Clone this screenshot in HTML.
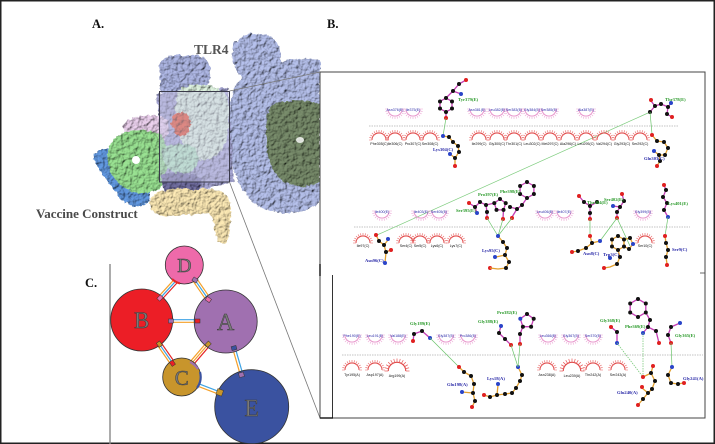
<!DOCTYPE html>
<html><head><meta charset="utf-8">
<style>
html,body{margin:0;padding:0;background:#fff;}
svg{display:block;}
.lbl{font-family:"Liberation Serif",serif;font-weight:bold;}
.t{font-family:"Liberation Sans",sans-serif;font-size:3.6px;}
.g{fill:#2a9a2a;font-family:"Liberation Serif",serif;font-size:4.6px;font-weight:bold;}
.b{fill:#2a2aa8;font-family:"Liberation Serif",serif;font-size:4.6px;font-weight:bold;}
.m{stroke:#c53fb5;stroke-width:1.3;fill:none;}
.o{stroke:#e2a030;stroke-width:1.3;fill:none;}
.h{stroke:#6cc46c;stroke-width:0.7;fill:none;}
.hd{stroke:#6cc46c;stroke-width:0.7;fill:none;stroke-dasharray:1.5 1;}
</style></head>
<body>
<svg width="715" height="444" viewBox="0 0 715 444" xmlns="http://www.w3.org/2000/svg">
<defs>
 <filter id="bump" x="-5%" y="-5%" width="110%" height="110%">
  <feTurbulence type="fractalNoise" baseFrequency="0.22" numOctaves="2" seed="4" result="n"/>
  <feDisplacementMap in="SourceGraphic" in2="n" scale="5" xChannelSelector="R" yChannelSelector="G" result="d"/>
  <feDiffuseLighting in="n" surfaceScale="2.5" lighting-color="#ffffff" result="l"><feDistantLight azimuth="225" elevation="55"/></feDiffuseLighting>
  <feComposite in="l" in2="d" operator="arithmetic" k1="1.2" k2="0" k3="0" k4="0" result="lit"/>
  <feComposite in="lit" in2="d" operator="in"/>
 </filter>
 <g id="up">
  <path d="M-7,0 A7,7 0 0 0 7,0" stroke="#e58ac6" stroke-width="0.8" fill="none"/>
  <path d="M7,0L10,0M6.76,1.81L9.66,2.59M6.06,3.5L8.66,5M4.95,4.95L7.07,7.07M3.5,6.06L5,8.66M1.81,6.76L2.59,9.66M0,7L0,10M-1.81,6.76L-2.59,9.66M-3.5,6.06L-5,8.66M-4.95,4.95L-7.07,7.07M-6.06,3.5L-8.66,5M-6.76,1.81L-9.66,2.59M-7,0L-10,0" stroke="#eba6d4" stroke-width="0.6"/>
 </g>
 <g id="dn">
  <path d="M-7,0 A7,7 0 0 1 7,0" stroke="#e04848" stroke-width="0.9" fill="none"/>
  <path d="M7,0L10,0M6.76,-1.81L9.66,-2.59M6.06,-3.5L8.66,-5M4.95,-4.95L7.07,-7.07M3.5,-6.06L5,-8.66M1.81,-6.76L2.59,-9.66M0,-7L0,-10M-1.81,-6.76L-2.59,-9.66M-3.5,-6.06L-5,-8.66M-4.95,-4.95L-7.07,-7.07M-6.06,-3.5L-8.66,-5M-6.76,-1.81L-9.66,-2.59M-7,0L-10,0" stroke="#e86060" stroke-width="0.6"/>
 </g>
</defs>

<rect x="0.75" y="0.75" width="713.5" height="442.5" fill="#fff" stroke="#222" stroke-width="1.5"/>

<!-- ================= PANEL A ================= -->
<g filter="url(#bump)">
 <!-- TLR4 top-right lobe -->
 <path d="M232,55 C230,38 250,30 262,34 C276,36 284,48 280,62 C282,75 270,85 255,82 C242,80 233,70 232,55 Z" fill="#a9b3dc"/>
 <!-- TLR4 big ring -->
 <path d="M236,85 C250,65 290,55 320,60 L320,202 C305,216 275,216 258,206 C238,193 228,160 229,130 C229,110 230,95 236,85 Z" fill="#a8b2da"/>
 <path d="M270,108 C282,98 305,100 320,104 L320,182 C305,190 285,187 275,173 C265,158 263,125 270,108 Z" fill="#6f8263"/>
 <!-- top center lobe -->
 <path d="M160,70 C158,58 172,52 185,56 C197,52 210,58 210,70 C212,82 205,92 195,96 L165,96 C158,88 160,80 160,70 Z" fill="#a3abd6"/>
 <!-- lavender mass -->
 <path d="M156,94 L228,88 L234,182 L200,190 L168,186 Z" fill="#9d9dc8"/>
 <!-- pale green -->
 <path d="M178,92 C185,82 212,82 224,92 C232,106 230,136 222,150 C212,163 196,162 188,152 C178,140 172,110 178,92 Z" fill="#cfe2d0"/>
 <!-- pink -->
 <path d="M122,126 C128,116 150,113 166,118 C172,125 168,139 160,143 C145,146 128,141 122,126 Z" fill="#dcc3de"/>
 <!-- blue -->
 <path d="M93,155 C100,146 118,148 130,152 C145,160 153,180 149,201 C140,211 128,207 118,196 C108,181 96,168 93,155 Z" fill="#5b8fd3"/>
 <!-- green -->
 <path d="M111,143 C120,127 151,126 163,138 C171,151 169,179 158,189 C145,197 125,193 115,179 C107,168 105,152 111,143 Z" fill="#8ed287"/>
 <!-- mint -->
 <path d="M162,150 C170,142 190,142 197,150 C201,161 195,173 184,174 C171,176 162,165 162,150 Z" fill="#a9d9b5"/>
 <!-- dark purple -->
 <path d="M160,176 C170,170 190,172 200,178 C205,186 196,196 185,197 C172,198 160,190 160,176 Z" fill="#6b6898"/>
 <!-- beige -->
 <path d="M150,200 C155,189 176,187 196,190 C211,187 223,190 229,198 C233,211 231,230 227,243 L218,243 C215,232 214,221 210,213 C195,215 175,216 160,215 C152,213 148,207 150,200 Z" fill="#ebd9a8"/>
 <!-- red -->
 <path d="M172,118 C175,111 185,111 188,116 C193,122 190,131 185,135 C180,138 173,133 172,126 Z" fill="#d94a2a"/>
</g>
<circle cx="136" cy="160" r="4" fill="#fff"/>
<ellipse cx="300" cy="140" rx="4" ry="3" fill="#fff" opacity="0.8"/>
<rect x="159.5" y="91.5" width="70" height="90.5" fill="rgba(206,206,236,0.45)" stroke="#3a3a4a" stroke-width="1"/>
<line x1="229.5" y1="91" x2="320" y2="72" stroke="#777" stroke-width="0.8"/>
<line x1="229.5" y1="182" x2="320" y2="418" stroke="#777" stroke-width="0.8"/>

<text class="lbl" x="92" y="28" font-size="12.5" fill="#111">A.</text>
<text class="lbl" x="327" y="28" font-size="12.5" fill="#111">B.</text>
<text class="lbl" x="85" y="287" font-size="12.5" fill="#111">C.</text>
<text class="lbl" x="194" y="54" font-size="13.5" fill="#555">TLR4</text>
<text class="lbl" x="36" y="218" font-size="13" fill="#4a4a4a">Vaccine Construct</text>

<!-- ================= PANEL C ================= -->
<line x1="110" y1="264" x2="110" y2="444" stroke="#888" stroke-width="1.4"/>
<!-- connectors -->
<g transform="translate(176.7,280) rotate(132.4)">
 <line x1="-4" y1="-2.2" x2="29" y2="-2.2" stroke="#e42525" stroke-width="1.2"/>
 <line x1="-4" y1="0" x2="29" y2="0" stroke="#3ea3e4" stroke-width="1.2"/>
 <line x1="-4" y1="2.2" x2="29" y2="2.2" stroke="#f5a02a" stroke-width="1.2"/>
</g>
<g transform="translate(195,280) rotate(55.4)">
 <line x1="-4" y1="-2.2" x2="28" y2="-2.2" stroke="#f5a02a" stroke-width="1.2"/>
 <line x1="-4" y1="0" x2="28" y2="0" stroke="#3ea3e4" stroke-width="1.2"/>
 <line x1="-4" y1="2.2" x2="28" y2="2.2" stroke="#f5a02a" stroke-width="1.2"/>
</g>
<g transform="translate(171.7,321)">
 <line x1="-4" y1="-1.3" x2="30" y2="-1.3" stroke="#3ea3e4" stroke-width="1.2"/>
 <line x1="-4" y1="1.3" x2="30" y2="1.3" stroke="#f5a02a" stroke-width="1.2"/>
</g>
<g transform="translate(159.3,344) rotate(55.2)">
 <line x1="-4" y1="-2.2" x2="28" y2="-2.2" stroke="#e42525" stroke-width="1.2"/>
 <line x1="-4" y1="0" x2="28" y2="0" stroke="#3ea3e4" stroke-width="1.2"/>
 <line x1="-4" y1="2.2" x2="28" y2="2.2" stroke="#f5a02a" stroke-width="1.2"/>
</g>
<g transform="translate(208.3,344) rotate(130.7)">
 <line x1="-4" y1="-2.2" x2="30" y2="-2.2" stroke="#e42525" stroke-width="1.2"/>
 <line x1="-4" y1="0" x2="30" y2="0" stroke="#f5a02a" stroke-width="1.2"/>
 <line x1="-4" y1="2.2" x2="30" y2="2.2" stroke="#f5a02a" stroke-width="1.2"/>
</g>
<g transform="translate(234,348.3) rotate(73.9)">
 <line x1="-4" y1="-1.3" x2="32" y2="-1.3" stroke="#3ea3e4" stroke-width="1.2"/>
 <line x1="-4" y1="1.3" x2="32" y2="1.3" stroke="#f5a02a" stroke-width="1.2"/>
</g>
<g transform="translate(198.3,385) rotate(20.9)">
 <line x1="-4" y1="-1.3" x2="28" y2="-1.3" stroke="#3ea3e4" stroke-width="1.2"/>
 <line x1="-4" y1="1.3" x2="28" y2="1.3" stroke="#f5a02a" stroke-width="1.2"/>
</g>
<!-- circles -->
<circle cx="184.3" cy="265" r="19" fill="#ee6aaa" stroke="#333" stroke-width="0.8"/>
<circle cx="141.7" cy="320" r="31" fill="#ec1e26" stroke="#333" stroke-width="0.8"/>
<circle cx="225.7" cy="321.5" r="31.5" fill="#a070b0" stroke="#333" stroke-width="0.8"/>
<circle cx="181.7" cy="377" r="19" fill="#c8952c" stroke="#333" stroke-width="0.8"/>
<circle cx="251.7" cy="406.7" r="37" fill="#3a52a0" stroke="#333" stroke-width="0.8"/>
<!-- arc segments -->
<path d="M172,279 A19,19 0 0 0 180,283.5" stroke="#e42525" stroke-width="2.2" fill="none"/>
<path d="M190,362 A19,19 0 0 1 198,369" stroke="#a070b0" stroke-width="2.2" fill="none"/>
<path d="M200,372 A19,19 0 0 1 197,388" stroke="#3a52a0" stroke-width="2.2" fill="none"/>
<!-- end squares -->
<rect x="157.5" y="296" width="5" height="4" fill="#ee6aaa" stroke="#333" stroke-width="0.5" transform="rotate(-45 160 298)"/>
<rect x="192.5" y="278" width="5" height="4" fill="#a070b0" stroke="#333" stroke-width="0.5" transform="rotate(35 195 280)"/>
<rect x="206" y="297.5" width="5" height="4" fill="#ee6aaa" stroke="#333" stroke-width="0.5" transform="rotate(35 208.3 299.3)"/>
<rect x="168.5" y="319" width="5" height="4" fill="#a070b0" stroke="#333" stroke-width="0.5"/>
<rect x="195" y="319" width="5" height="4" fill="#ec1e26" stroke="#333" stroke-width="0.5"/>
<rect x="157" y="342" width="5" height="4" fill="#c8952c" stroke="#333" stroke-width="0.5" transform="rotate(55 159.3 344)"/>
<rect x="170" y="361.5" width="5" height="4" fill="#ec1e26" stroke="#333" stroke-width="0.5" transform="rotate(55 172.7 363.3)"/>
<rect x="205.5" y="342" width="5" height="4" fill="#c8952c" stroke="#333" stroke-width="0.5" transform="rotate(-45 208.3 344)"/>
<rect x="231.5" y="346" width="5" height="4" fill="#3a52a0" stroke="#333" stroke-width="0.5" transform="rotate(-15 234 348)"/>
<rect x="239" y="372.5" width="5" height="4.5" fill="#a070b0" stroke="#333" stroke-width="0.5" transform="rotate(-15 241.7 375)"/>
<rect x="216.5" y="389.5" width="6" height="6" fill="#c8952c" stroke="#333" stroke-width="0.5" transform="rotate(20 220 393)"/>
<!-- letters -->
<g class="lbl" font-weight="normal" fill="#7a7a7a" stroke="#3a3a3a" stroke-width="0.5" text-anchor="middle" style="font-weight:normal">
 <text x="184.3" y="272" font-size="20">D</text>
 <text x="141.7" y="328" font-size="23">B</text>
 <text x="225.7" y="330" font-size="24">A</text>
 <text x="181.7" y="385" font-size="21">C</text>
 <text x="251.7" y="416" font-size="24">E</text>
</g>

<!-- ================= PANEL B ================= -->
<rect x="320" y="72" width="385" height="346" fill="#fff" stroke="#444" stroke-width="1"/>
<line x1="320" y1="264" x2="320" y2="276" stroke="#111" stroke-width="1.4"/>
<line x1="332.5" y1="275" x2="332.5" y2="418" stroke="#333" stroke-width="1"/>
<line x1="320" y1="418" x2="333" y2="418" stroke="#111" stroke-width="1.4"/>
<line x1="700" y1="273" x2="705" y2="273" stroke="#444" stroke-width="0.8"/>

<!-- dashed separator lines -->
<line x1="369" y1="126" x2="678" y2="126" stroke="#888" stroke-width="0.6" stroke-dasharray="1.5 1"/>
<line x1="354" y1="227" x2="690" y2="227" stroke="#888" stroke-width="0.6" stroke-dasharray="1.5 1"/>
<line x1="342" y1="355" x2="703" y2="355" stroke="#888" stroke-width="0.6" stroke-dasharray="1.5 1"/>

<!-- long diagonal H-bond -->
<line x1="648" y1="113" x2="377" y2="235" stroke="#7dcc7d" stroke-width="0.7"/>

<!-- Row 1 arcs -->
<g>
 <use href="#up" x="395" y="109"/><use href="#up" x="413" y="109"/><use href="#up" x="477" y="109"/><use href="#up" x="497" y="109"/>
 <use href="#up" x="514" y="109"/><use href="#up" x="532" y="109"/><use href="#up" x="549" y="109"/><use href="#up" x="586" y="109"/>
 <use href="#dn" x="379" y="140"/><use href="#dn" x="395" y="140"/><use href="#dn" x="413" y="140"/><use href="#dn" x="430" y="140"/>
 <use href="#dn" x="479" y="140"/><use href="#dn" x="497" y="140"/><use href="#dn" x="514" y="140"/><use href="#dn" x="532" y="140"/>
 <use href="#dn" x="550" y="140"/><use href="#dn" x="568" y="140"/><use href="#dn" x="586" y="140"/><use href="#dn" x="604" y="140"/>
 <use href="#dn" x="622" y="140"/><use href="#dn" x="640" y="140"/>
</g>
<g class="t" fill="#2a2aa8" text-anchor="middle">
 <text x="395" y="111">Asn376(E)</text><text x="413" y="111">Ile375(E)</text><text x="477" y="111">Asn381(E)</text><text x="497" y="111">Leu382(E)</text>
 <text x="514" y="111">Ser383(E)</text><text x="532" y="111">Gly384(E)</text><text x="549" y="111">Ser385(E)</text><text x="586" y="111">Ala387(E)</text>
</g>
<g class="t" fill="#111" text-anchor="middle">
 <text x="379" y="145">Phe305(C)</text><text x="395" y="145">Ile306(C)</text><text x="413" y="145">Pro307(C)</text><text x="430" y="145">Ser308(C)</text>
 <text x="479" y="145">Ile299(C)</text><text x="497" y="145">Gly300(C)</text><text x="514" y="145">Thr301(C)</text><text x="532" y="145">Leu302(C)</text>
 <text x="550" y="145">Met297(C)</text><text x="568" y="145">Ala296(C)</text><text x="586" y="145">Leu295(C)</text><text x="604" y="145">Val294(C)</text>
 <text x="622" y="145">Gly293(C)</text><text x="640" y="145">Ser292(C)</text>
</g>

<!-- Tyr379(E) -->
<polygon class="m" points="452,101.5 452,108.5 446,112 440,108.5 440,101.5 446,98"/>
<polyline class="m" points="446,98 453,91 459,84 466,80"/>
<polyline class="m" points="453,91 461,94"/>
<line class="m" x1="446" y1="112" x2="446" y2="118"/>
<g fill="#111"><circle cx="452" cy="101.5" r="2"/><circle cx="452" cy="108.5" r="2"/><circle cx="446" cy="112" r="2"/><circle cx="440" cy="108.5" r="2"/><circle cx="440" cy="101.5" r="2"/><circle cx="446" cy="98" r="2"/><circle cx="453" cy="91" r="2"/><circle cx="459" cy="84" r="2"/></g>
<circle cx="466" cy="80" r="2" fill="#e02020"/><circle cx="461" cy="94" r="2" fill="#2a44c8"/><circle cx="446" cy="118" r="2" fill="#e02020"/>
<text class="g" x="458" y="101">Tyr379(E)</text>
<line class="h" x1="446" y1="118" x2="443" y2="136"/>
<!-- Lys304(C) -->
<polyline class="o" points="443,136 449,137 453,142 458,146 459,152 455,158 455,165"/>
<line class="o" x1="455" y1="158" x2="450" y2="154"/>
<g fill="#111"><circle cx="449" cy="137" r="2"/><circle cx="453" cy="142" r="2"/><circle cx="458" cy="146" r="2"/><circle cx="459" cy="152" r="2"/><circle cx="455" cy="158" r="2"/></g>
<circle cx="443" cy="136" r="2" fill="#2a44c8"/><circle cx="450" cy="154" r="2" fill="#2a44c8"/><circle cx="455" cy="166" r="2" fill="#e02020"/>
<text class="b" x="433" y="151">Lys304(C)</text>

<!-- Thr378(E) -->
<polyline class="m" points="651,101 655,106 661,104 668,107 671,103"/>
<polyline class="m" points="655,106 650,112"/>
<polyline class="m" points="668,107 667,114 672,117"/>
<g fill="#111"><circle cx="655" cy="106" r="2"/><circle cx="661" cy="104" r="2"/><circle cx="668" cy="107" r="2"/><circle cx="650" cy="112" r="2"/><circle cx="667" cy="114" r="2"/></g>
<circle cx="651" cy="100" r="2" fill="#e02020"/><circle cx="671" cy="103" r="2" fill="#2a44c8"/><circle cx="672" cy="117" r="2" fill="#e02020"/>
<text class="g" x="665" y="101">Thr378(E)</text>
<line class="h" x1="650" y1="112" x2="652" y2="134"/>
<!-- Gln303(C) -->
<polyline class="o" points="652,135 657,141 664,142 668,148 665,155 659,155 654,151"/>
<polyline class="o" points="659,155 660,161 657,166"/>
<g fill="#111"><circle cx="657" cy="141" r="2"/><circle cx="664" cy="142" r="2"/><circle cx="668" cy="148" r="2"/><circle cx="665" cy="155" r="2"/><circle cx="659" cy="155" r="2"/><circle cx="660" cy="161" r="2"/></g>
<circle cx="652" cy="135" r="2" fill="#e02020"/><circle cx="654" cy="151" r="2" fill="#2a44c8"/><circle cx="657" cy="166" r="2" fill="#e02020"/>
<text class="b" x="644" y="160">Gln303(C)</text>

<!-- Row 2 arcs -->
<g>
 <use href="#up" x="382" y="211"/><use href="#up" x="421" y="211"/><use href="#up" x="439" y="211"/><use href="#up" x="545" y="211"/><use href="#up" x="564" y="211"/><use href="#up" x="643" y="211"/>
 <use href="#dn" x="363" y="243"/><use href="#dn" x="406" y="243"/><use href="#dn" x="420" y="243"/><use href="#dn" x="437" y="243"/><use href="#dn" x="456" y="243"/><use href="#dn" x="645" y="243"/>
</g>
<g class="t" fill="#2a2aa8" text-anchor="middle">
 <text x="382" y="213">Ile400(E)</text><text x="421" y="213">Ile403(E)</text><text x="439" y="213">Ser405(E)</text><text x="545" y="213">Leu406(E)</text><text x="564" y="213">Ile407(E)</text><text x="643" y="213">Gly399(E)</text>
</g>
<g class="t" fill="#111" text-anchor="middle">
 <text x="363" y="247">Ile97(C)</text><text x="406" y="247">Ser4(C)</text><text x="420" y="247">Ser5(C)</text><text x="437" y="247">Lys6(C)</text><text x="456" y="247">Lys7(C)</text><text x="645" y="247">Ser10(C)</text>
</g>
<!-- Asn96(C) -->
<polyline class="o" points="376,235 379,241 384,245 386,252 385,263"/>
<polyline class="o" points="384,245 388,240"/><polyline class="o" points="386,252 391,250"/>
<g fill="#111"><circle cx="379" cy="241" r="2"/><circle cx="384" cy="245" r="2"/><circle cx="386" cy="252" r="2"/></g>
<circle cx="376" cy="235" r="2" fill="#e02020"/><circle cx="388" cy="239" r="2" fill="#2a44c8"/><circle cx="391" cy="250" r="2" fill="#e02020"/><circle cx="385" cy="263" r="2" fill="#2a44c8"/>
<text class="b" x="365" y="262">Asn96(C)</text>
<!-- Ser395 / Pro397 / Phe398 -->
<polyline class="m" points="469,203 475,207 480,202 486,205 487,212 487,218"/>
<polyline class="m" points="475,207 477,213"/>
<polygon class="m" points="500,199 505.7,203.1 503.5,209.9 496.5,209.9 494.3,203.1"/>
<polyline class="m" points="494.3,203.1 486,205"/>
<polyline class="m" points="503.5,209.9 503,218"/>
<polygon class="m" points="527,182 533.9,186 533.9,194 527,198 520.1,194 520.1,186"/>
<polyline class="m" points="527,198 522,205 517,209 512,217"/>
<polyline class="m" points="517,209 510,207"/>
<g fill="#111">
 <circle cx="475" cy="207" r="2"/><circle cx="480" cy="202" r="2"/><circle cx="486" cy="205" r="2"/><circle cx="487" cy="212" r="2"/>
 <circle cx="500" cy="199" r="2"/><circle cx="505.7" cy="203.1" r="2"/><circle cx="503.5" cy="209.9" r="2"/><circle cx="496.5" cy="209.9" r="2"/><circle cx="494.3" cy="203.1" r="2"/>
 <circle cx="527" cy="182" r="2"/><circle cx="533.9" cy="186" r="2"/><circle cx="533.9" cy="194" r="2"/><circle cx="527" cy="198" r="2"/><circle cx="520.1" cy="194" r="2"/><circle cx="520.1" cy="186" r="2"/>
 <circle cx="522" cy="205" r="2"/><circle cx="517" cy="209" r="2"/><circle cx="510" cy="207" r="2"/>
</g>
<circle cx="469" cy="203" r="2" fill="#e02020"/><circle cx="477" cy="213" r="2" fill="#2a44c8"/><circle cx="487" cy="218" r="2" fill="#e02020"/><circle cx="503" cy="219" r="2" fill="#e02020"/><circle cx="512" cy="218" r="2" fill="#e02020"/>
<text class="g" x="456" y="212">Ser395(E)</text>
<text class="g" x="478" y="196">Pro397(E)</text>
<text class="g" x="500" y="193">Phe398(E)</text>
<line class="h" x1="487" y1="218" x2="498" y2="236"/><line class="h" x1="503" y1="219" x2="498" y2="236"/><line class="h" x1="512" y1="218" x2="498" y2="236"/>
<!-- Lys95(C) -->
<polyline class="o" points="498,236 503,242 507,248 505,255 509,262 506,268 498,269"/>
<polyline class="o" points="505,255 496,257"/>
<g fill="#111"><circle cx="503" cy="242" r="2"/><circle cx="507" cy="248" r="2"/><circle cx="505" cy="255" r="2"/><circle cx="509" cy="262" r="2"/><circle cx="506" cy="268" r="2"/></g>
<circle cx="498" cy="236" r="2" fill="#2a44c8"/><circle cx="495" cy="257" r="2" fill="#2a44c8"/><circle cx="490" cy="268" r="2" fill="#e02020"/>
<line class="o" x1="490" y1="268" x2="498" y2="269"/>
<text class="b" x="482" y="252">Lys95(C)</text>

<!-- Thr404 / Ser402 -->
<polyline class="m" points="579,196 584,202 590,206 597,202"/>
<polyline class="m" points="590,206 590,213 590,219"/>
<polyline class="m" points="622,194 624,201 620,207 617,212 617,218"/>
<polyline class="m" points="620,207 613,206"/>
<g fill="#111"><circle cx="584" cy="202" r="2"/><circle cx="590" cy="206" r="2"/><circle cx="597" cy="202" r="2"/><circle cx="590" cy="213" r="2"/><circle cx="624" cy="201" r="2"/><circle cx="620" cy="207" r="2"/><circle cx="617" cy="212" r="2"/></g>
<circle cx="579" cy="196" r="2" fill="#e02020"/><circle cx="590" cy="219" r="2" fill="#e02020"/><circle cx="622" cy="194" r="2" fill="#e02020"/><circle cx="617" cy="218" r="2" fill="#e02020"/><circle cx="613" cy="206" r="2" fill="#2a44c8"/>
<text class="g" x="587" y="204">Thr404(E)</text>
<text class="g" x="604" y="201">Ser402(E)</text>
<line class="h" x1="590" y1="219" x2="590" y2="236"/><line class="h" x1="617" y1="218" x2="600" y2="241"/><line class="h" x1="617" y1="218" x2="630" y2="246"/>
<!-- Asn8(C) -->
<polyline class="o" points="590,236 592,243 600,241"/>
<polyline class="o" points="592,243 586,248 578,251 572,252"/>
<g fill="#111"><circle cx="592" cy="243" r="2"/><circle cx="586" cy="248" r="2"/><circle cx="578" cy="251" r="2"/></g>
<circle cx="590" cy="236" r="2" fill="#e02020"/><circle cx="600" cy="241" r="2" fill="#2a44c8"/><circle cx="572" cy="252" r="2" fill="#e02020"/>
<text class="b" x="583" y="255">Asn8(C)</text>
<!-- Trp3(C) -->
<polygon class="o" points="618,236 624,239.5 624,246.5 618,250 612,246.5 612,239.5"/>
<polygon class="o" points="624,239.5 630,238 633,244 629,249 624,246.5"/>
<polyline class="o" points="618,250 620,257 617,264 610,267 604,268"/>
<g fill="#111"><circle cx="618" cy="236" r="2"/><circle cx="624" cy="239.5" r="2"/><circle cx="624" cy="246.5" r="2"/><circle cx="618" cy="250" r="2"/><circle cx="612" cy="246.5" r="2"/><circle cx="612" cy="239.5" r="2"/><circle cx="630" cy="238" r="2"/><circle cx="629" cy="249" r="2"/><circle cx="620" cy="257" r="2"/><circle cx="617" cy="264" r="2"/></g>
<circle cx="633" cy="244" r="2" fill="#2a44c8"/><circle cx="610" cy="258" r="2" fill="#2a44c8"/><circle cx="604" cy="268" r="2" fill="#e02020"/>
<text class="b" x="603" y="256">Trp3(C)</text>
<!-- Lys401(E) -->
<polyline class="m" points="664,185 666,190 663,197 667,203 664,210 668,217"/>
<g fill="#111"><circle cx="666" cy="190" r="2"/><circle cx="663" cy="197" r="2"/><circle cx="667" cy="203" r="2"/><circle cx="664" cy="210" r="2"/></g>
<circle cx="664" cy="185" r="2" fill="#e02020"/><circle cx="668" cy="217" r="2" fill="#2a44c8"/>
<text class="g" x="668" y="205">Lys401(E)</text>
<line class="h" x1="668" y1="217" x2="665" y2="236"/>
<!-- Ser9(C) -->
<polyline class="o" points="665,236 666,243 668,250 666,257 667,264"/>
<g fill="#111"><circle cx="666" cy="243" r="2"/><circle cx="668" cy="250" r="2"/><circle cx="666" cy="257" r="2"/></g>
<circle cx="665" cy="236" r="2" fill="#e02020"/><circle cx="667" cy="265" r="2" fill="#e02020"/>
<text class="b" x="672" y="251">Ser9(C)</text>

<!-- Row 3 arcs -->
<g>
 <use href="#up" x="352" y="335"/><use href="#up" x="375" y="335"/><use href="#up" x="398" y="335"/><use href="#up" x="446" y="335"/><use href="#up" x="468" y="335"/><use href="#up" x="548" y="335"/><use href="#up" x="571" y="335"/><use href="#up" x="593" y="335"/>
 <use href="#dn" x="352" y="370"/><use href="#dn" x="375" y="370"/><use href="#dn" x="397" y="371" transform="translate(397 371) scale(1.25) translate(-397 -371)"/>
 <use href="#dn" x="547" y="370"/><use href="#dn" x="572" y="371" transform="translate(572 371) scale(1.25) translate(-572 -371)"/><use href="#dn" x="593" y="370"/><use href="#dn" x="618" y="370"/>
</g>
<g class="t" fill="#2a2aa8" text-anchor="middle">
 <text x="352" y="337">Phe190(E)</text><text x="375" y="337">Leu191(E)</text><text x="398" y="337">Val188(E)</text><text x="446" y="337">Gly387(E)</text><text x="468" y="337">Pro386(E)</text>
 <text x="548" y="337">Leu366(E)</text><text x="571" y="337">Gly367(E)</text><text x="593" y="337">Ser370(E)</text>
</g>
<g class="t" fill="#111" text-anchor="middle">
 <text x="352" y="376">Tyr195(A)</text><text x="375" y="376">Asp197(A)</text><text x="397" y="377">Arg199(A)</text>
 <text x="547" y="376">Asn238(A)</text><text x="572" y="377">Leu239(A)</text><text x="593" y="376">Thr242(A)</text><text x="618" y="376">Ser243(A)</text>
</g>
<!-- Gly189(E) -->
<polyline class="m" points="413,341 414,334 422,331 430,338"/>
<g fill="#111"><circle cx="414" cy="334" r="2"/><circle cx="422" cy="331" r="2"/></g>
<circle cx="413" cy="341" r="2" fill="#e02020"/><circle cx="430" cy="338" r="2" fill="#2a44c8"/>
<text class="g" x="410" y="325">Gly189(E)</text>
<line class="h" x1="430" y1="338" x2="459" y2="367"/>
<!-- Glu198(A) -->
<polyline class="o" points="459,367 464,372 471,376 474,384 473,393 475,401 472,407"/>
<polyline class="o" points="473,393 462,392"/>
<g fill="#111"><circle cx="464" cy="372" r="2"/><circle cx="471" cy="376" r="2"/><circle cx="474" cy="384" r="2"/><circle cx="473" cy="393" r="2"/><circle cx="475" cy="401" r="2"/></g>
<circle cx="459" cy="367" r="2" fill="#e02020"/><circle cx="462" cy="392" r="2" fill="#2a44c8"/><circle cx="472" cy="407" r="2" fill="#e02020"/>
<text class="b" x="447" y="386">Glu198(A)</text>
<!-- Lys18(A) -->
<polyline class="o" points="484,395 490,397 497,395 505,394 512,393 516,388 520,381 522,375 518,367"/>
<polyline class="o" points="497,395 498,385"/>
<g fill="#111"><circle cx="490" cy="397" r="2"/><circle cx="497" cy="395" r="2"/><circle cx="505" cy="394" r="2"/><circle cx="512" cy="393" r="2"/><circle cx="516" cy="388" r="2"/><circle cx="520" cy="381" r="2"/><circle cx="522" cy="375" r="2"/></g>
<circle cx="484" cy="395" r="2" fill="#e02020"/><circle cx="498" cy="384" r="2" fill="#2a44c8"/><circle cx="518" cy="367" r="2" fill="#2a44c8"/>
<text class="b" x="487" y="380">Lys18(A)</text>
<!-- Gly388(E) / Pro382(E) -->
<polyline class="m" points="501,326 499,333 505,339 511,345"/>
<polygon class="m" points="527,314 533.7,318.8 531.1,326.7 522.9,326.7 520.3,318.8"/>
<polyline class="m" points="522.9,326.7 520,334 520,343"/>
<g fill="#111"><circle cx="499" cy="333" r="2"/><circle cx="505" cy="339" r="2"/><circle cx="527" cy="314" r="2"/><circle cx="533.7" cy="318.8" r="2"/><circle cx="531.1" cy="326.7" r="2"/><circle cx="522.9" cy="326.7" r="2"/><circle cx="520" cy="334" r="2"/></g>
<circle cx="501" cy="326" r="2" fill="#2a44c8"/><circle cx="520.3" cy="318.8" r="2" fill="#2a44c8"/><circle cx="511" cy="345" r="2" fill="#e02020"/><circle cx="520" cy="344" r="2" fill="#e02020"/>
<text class="g" x="478" y="323">Gly388(E)</text>
<text class="g" x="497" y="314">Pro382(E)</text>
<line class="h" x1="511" y1="345" x2="518" y2="367"/><line class="h" x1="520" y1="344" x2="518" y2="367"/>

<!-- Phe369 / Gly368 / Gly365 -->
<polygon class="m" points="638,299 645.8,303.5 645.8,312.5 638,317 630.2,312.5 630.2,303.5"/>
<polyline class="m" points="645.8,312.5 650,320 648,327 643,333"/>
<polyline class="m" points="648,327 656,331 659,343"/>
<polyline class="m" points="611,327 617,332 617,343"/>
<polyline class="m" points="680,323 671,327 668,335 671,343"/>
<g fill="#111"><circle cx="638" cy="299" r="2"/><circle cx="645.8" cy="303.5" r="2"/><circle cx="645.8" cy="312.5" r="2"/><circle cx="638" cy="317" r="2"/><circle cx="630.2" cy="312.5" r="2"/><circle cx="630.2" cy="303.5" r="2"/><circle cx="650" cy="320" r="2"/><circle cx="648" cy="327" r="2"/><circle cx="656" cy="331" r="2"/><circle cx="617" cy="332" r="2"/><circle cx="671" cy="327" r="2"/><circle cx="668" cy="335" r="2"/></g>
<circle cx="643" cy="333" r="2" fill="#2a44c8"/><circle cx="659" cy="343" r="2" fill="#e02020"/><circle cx="611" cy="327" r="2" fill="#e02020"/><circle cx="617" cy="343" r="2" fill="#2a44c8"/><circle cx="680" cy="323" r="2" fill="#2a44c8"/><circle cx="671" cy="343" r="2" fill="#e02020"/>
<text class="g" x="600" y="322">Gly368(E)</text>
<text class="g" x="625" y="328">Phe369(E)</text>
<text class="g" x="675" y="337">Gly365(E)</text>
<line class="hd" x1="617" y1="343" x2="643" y2="377"/><line class="hd" x1="643" y1="333" x2="643" y2="377"/><line class="h" x1="671" y1="343" x2="672" y2="367"/>
<!-- Glu240(A) -->
<polyline class="o" points="643,377 651,373 655,381 652,389 648,393 643,399 638,405"/>
<polyline class="o" points="651,373 653,366"/>
<polyline class="o" points="648,393 642,388"/>
<g fill="#111"><circle cx="651" cy="373" r="2"/><circle cx="655" cy="381" r="2"/><circle cx="652" cy="389" r="2"/><circle cx="648" cy="393" r="2"/><circle cx="643" cy="399" r="2"/></g>
<circle cx="643" cy="377" r="2" fill="#e02020"/><circle cx="653" cy="366" r="2" fill="#e02020"/><circle cx="642" cy="387" r="2" fill="#e02020"/><circle cx="638" cy="405" r="2" fill="#e02020"/>
<text class="b" x="617" y="394">Glu240(A)</text>
<!-- Gly241(A) -->
<polyline class="o" points="672,367 668,375 671,383 678,384 683,383"/>
<g fill="#111"><circle cx="668" cy="375" r="2"/><circle cx="671" cy="383" r="2"/><circle cx="678" cy="384" r="2"/></g>
<circle cx="672" cy="367" r="2" fill="#2a44c8"/><circle cx="684" cy="383" r="2" fill="#e02020"/>
<text class="b" x="683" y="380">Gly241(A)</text>
</svg>
</body></html>
